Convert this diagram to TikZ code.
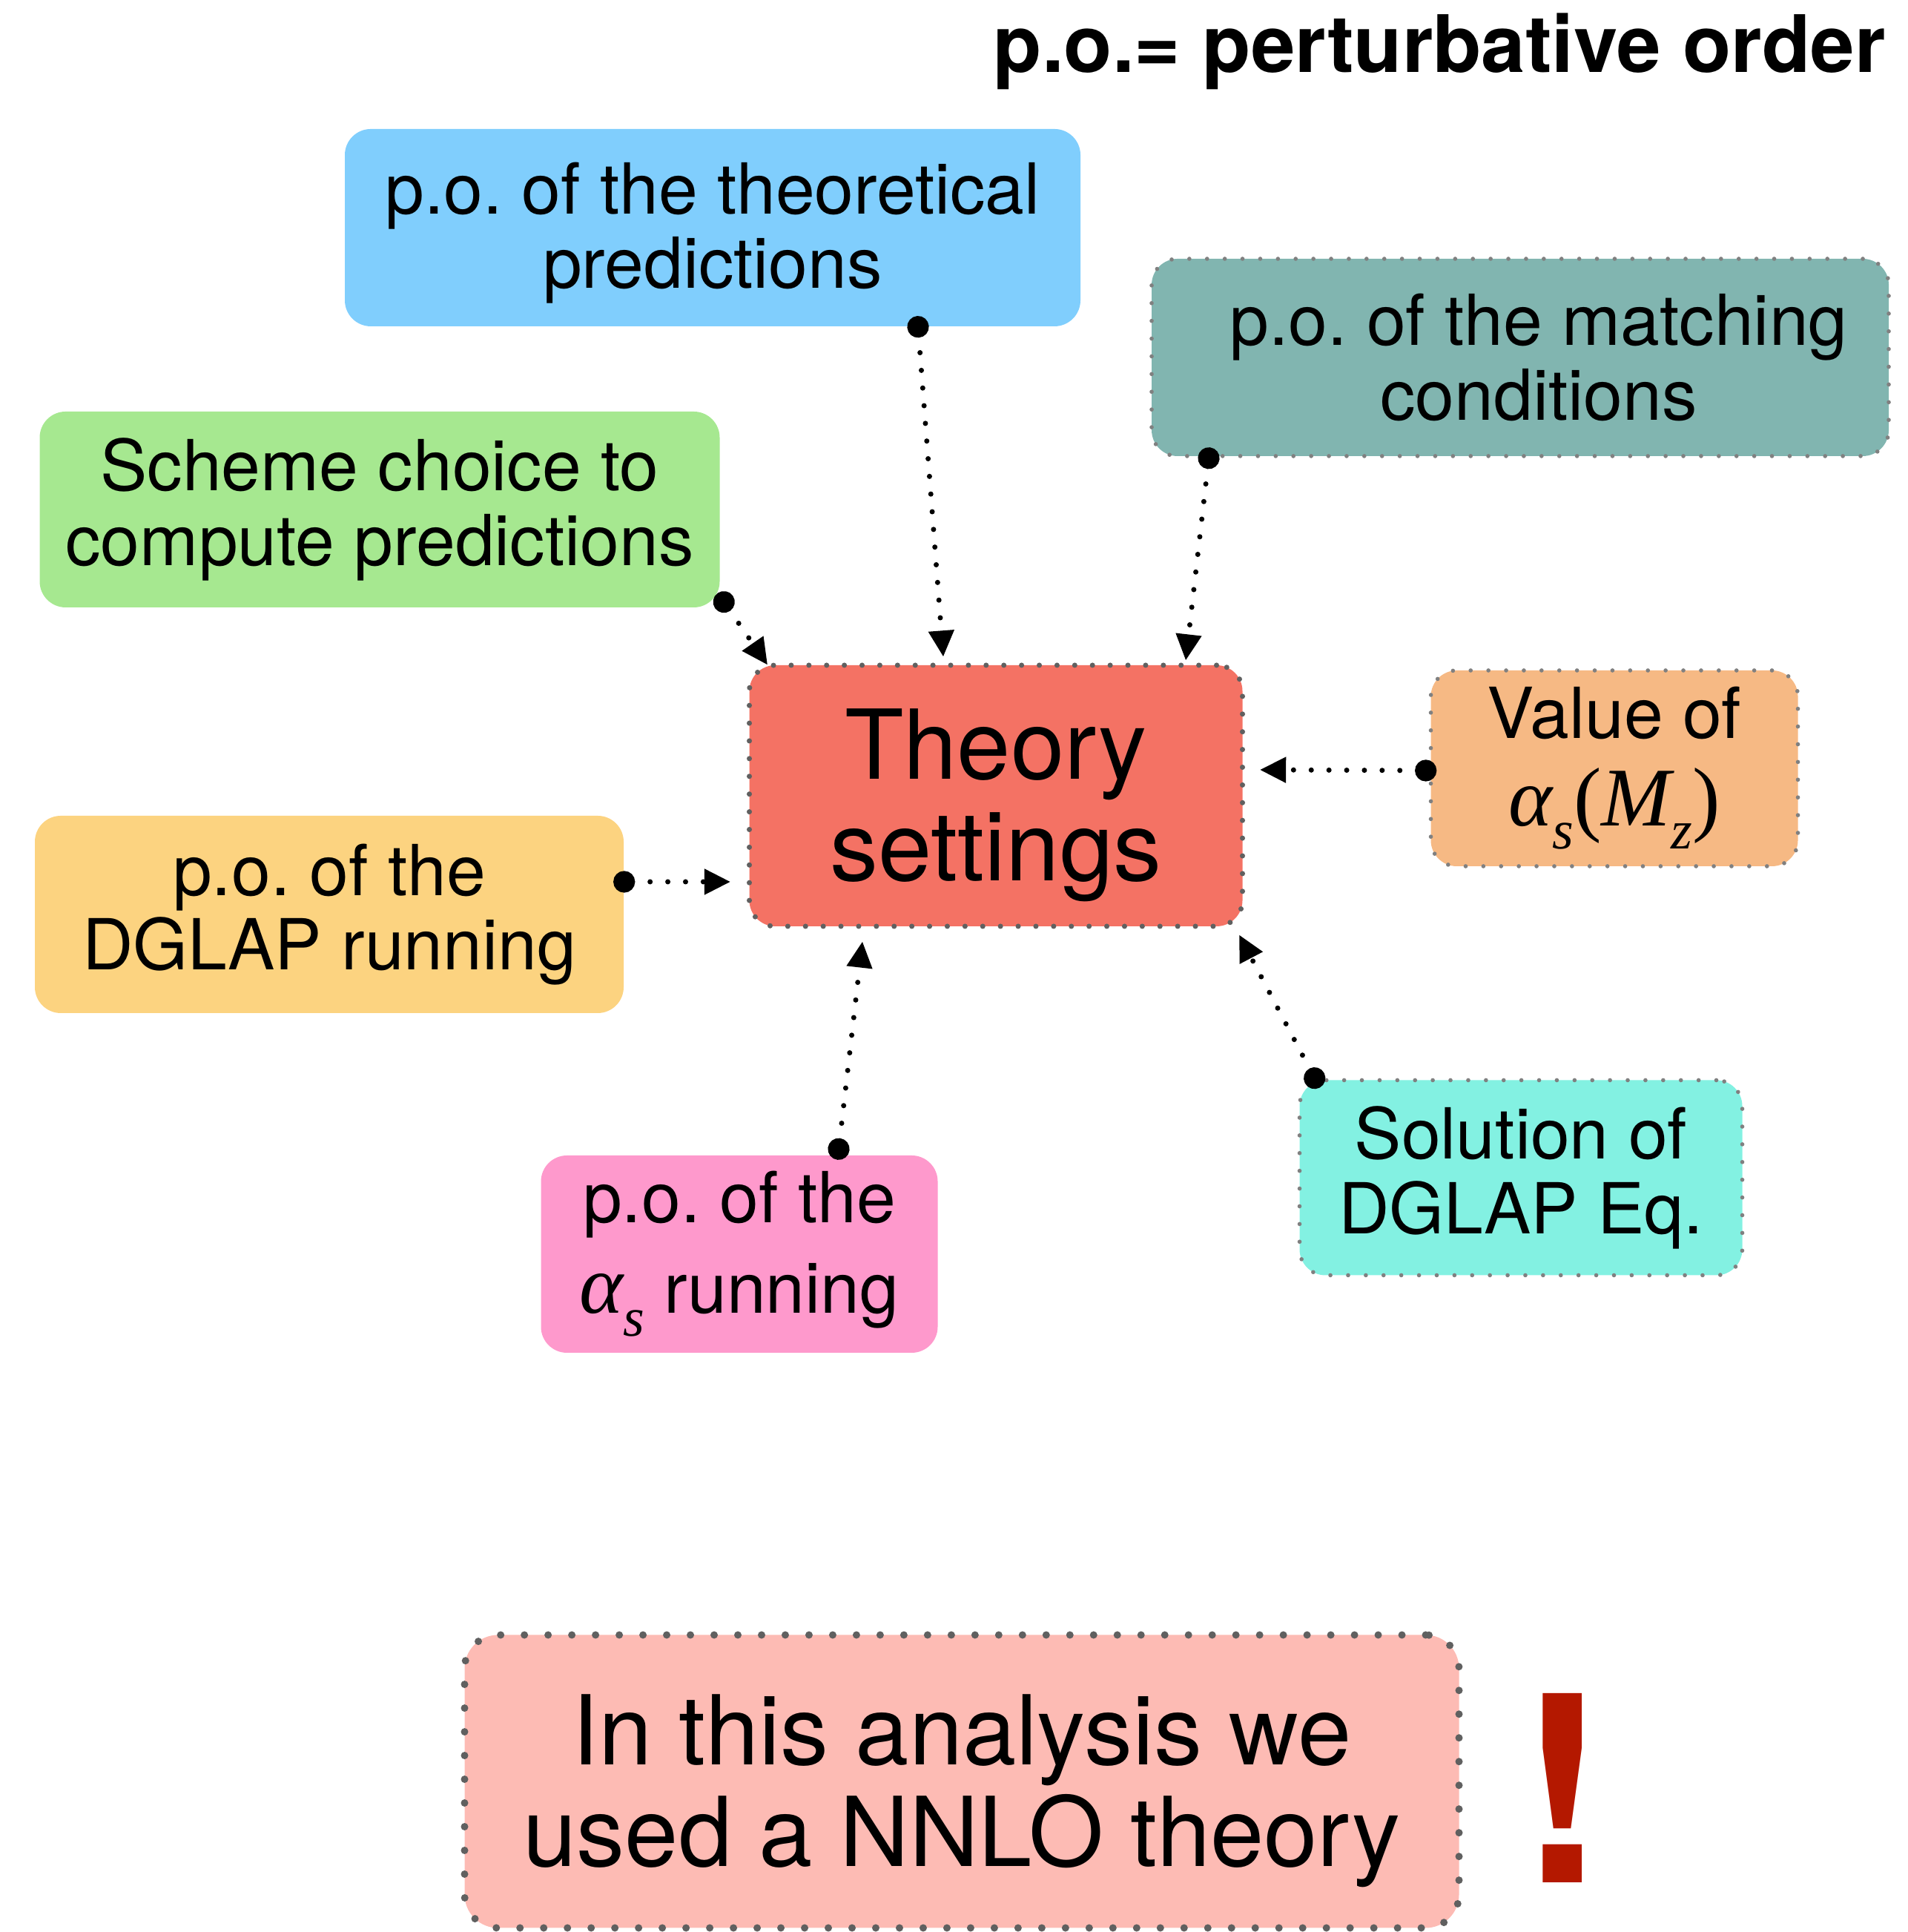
\documentclass[tikz,border=0pt]{standalone}
\usepackage{fontspec}
\setmainfont{TeX Gyre Heros}
\newfontfamily\mathitfont{Liberation Serif}
\usetikzlibrary{arrows.meta,calc}
\frenchspacing

\definecolor{theoblue}{RGB}{128,206,253}
\definecolor{matchteal}{RGB}{129,181,176}
\definecolor{schemegreen}{RGB}{166,232,144}
\definecolor{settingsred}{RGB}{244,114,100}
\definecolor{alphaorange}{RGB}{246,185,132}
\definecolor{dglapyellow}{RGB}{252,211,128}
\definecolor{runpink}{RGB}{254,153,204}
\definecolor{solcyan}{RGB}{131,241,226}
\definecolor{resultpink}{RGB}{253,187,180}
\definecolor{excred}{RGB}{180,24,0}
\definecolor{dotgray}{RGB}{128,128,128}
\definecolor{darkdotgray}{RGB}{96,96,96}

\newcommand{\boxfont}{\fontsize{27}{28.5}\selectfont}
\newcommand{\bigboxfont}{\fontsize{37}{39}\selectfont}
\newcommand{\bigstrut}{\rule{0pt}{34.5pt}}
\newcommand{\asub}[1]{\raisebox{-0.28em}{\fontsize{21}{21}\selectfont #1}}
\newcommand{\alphasym}{{\mathitfont\itshape\fontsize{32}{28.5}\selectfont α\asub{s}}}
\newcommand{\alphasMz}{{\mathitfont\itshape\fontsize{32}{28.5}\selectfont α\asub{s}{\upshape(}M\asub{z}{\upshape)}}}

\begin{document}
\begin{tikzpicture}[
  box/.style={rounded corners=0.35cm, align=center, inner sep=0pt, font=\boxfont},
  dotbox/.style={box, draw=#1, line width=1.6pt, line cap=round, dash pattern=on 0pt off 6.8pt},
  dotbox/.default=dotgray,
  link/.style={line width=2pt, line cap=round, dash pattern=on 0pt off 6.8pt,
    {Circle[length=8.3pt]}-{Triangle[length=10pt,width=9.5pt]}, shorten <=-4.15pt}
]
\useasboundingbox (0,0) rectangle (25.72,26.05);

% title
\node[anchor=base east, font=\fontsize{30.4}{30}\selectfont\bfseries] (title) at (25.55,25.07) {p.o.= perturbative order};

% inputs
\node[box, fill=theoblue, minimum width=9.92cm, minimum height=2.66cm] (theo) at (9.61,22.98) {\rule{0pt}{24pt}p.o. of the theoretical\\predictions};
\node[dotbox, fill=matchteal, minimum width=9.94cm, minimum height=2.66cm] (match) at (20.5,21.23) {\hspace*{0.5cm}p.o. of the matching\\\hspace*{0.5cm}conditions};
\node[box, fill=schemegreen, minimum width=9.17cm, minimum height=2.64cm] (scheme) at (5.12,19.18) {Scheme choice to\\compute predictions};
\node[dotbox, fill=alphaorange, minimum width=4.95cm, minimum height=2.64cm] (value) at (21.77,15.69) {Value of\\[5pt]\alphasMz};
\node[box, fill=dglapyellow, minimum width=7.94cm, minimum height=2.66cm] (dglap) at (4.44,13.72) {p.o. of the\\DGLAP running};
\node[box, fill=runpink, minimum width=5.35cm, minimum height=2.66cm] (running) at (9.97,9.14) {p.o. of the\\[6pt]\alphasym{} running};
\node[dotbox, fill=solcyan, minimum width=5.97cm, minimum height=2.63cm] (solution) at (20.51,10.17) {Solution of\\DGLAP Eq.};

% centre
\node[dotbox=darkdotgray, line width=2pt, fill=settingsred, font=\bigboxfont, minimum width=6.65cm, minimum height=3.52cm] (settings) at (13.43,15.32) {\bigstrut Theory\\settings};

% result
\node[dotbox=darkdotgray, line width=2.85pt, dash pattern=on 0pt off 9.1pt, rounded corners=0.45cm, fill=resultpink, font=\bigboxfont, minimum width=13.41cm, minimum height=3.95cm] (result) at (12.97,2.03) {\bigstrut In this analysis we\\used a NNLO theory};
\node[font=\fontsize{100}{100}\selectfont\bfseries, text=excred, inner sep=4pt] (bang) at (21.07,1.94) {!};

% links
\draw[link] ($(theo.south)+(2.77,0)$) -- ($(settings.north)+(-0.71,0.08)$);
\draw[link] ($(match.south)+(-4.2,0)$) -- ($(settings.north)+(2.56,0.03)$);
\draw[link] ($(scheme.south east)+(0.05,0.08)$) -- ($(settings.north west)+(0.28,-0.03)$);
\draw[link] ($(value.west)+(-0.04,-0.03)$) -- ($(settings.east)+(0.2,0.35)$);
\draw[link] ($(dglap.east)+(0,0.44)$) -- ($(settings.west)+(-0.22,-1.16)$);
\draw[link] ($(running.north)+(1.34,0.08)$) -- ($(settings.south)+(-1.8,-0.17)$);
\draw[link] ($(solution.north west)+(0.23,0)$) -- ($(settings.south east)+(-0.08,-0.08)$);
\end{tikzpicture}
\end{document}
